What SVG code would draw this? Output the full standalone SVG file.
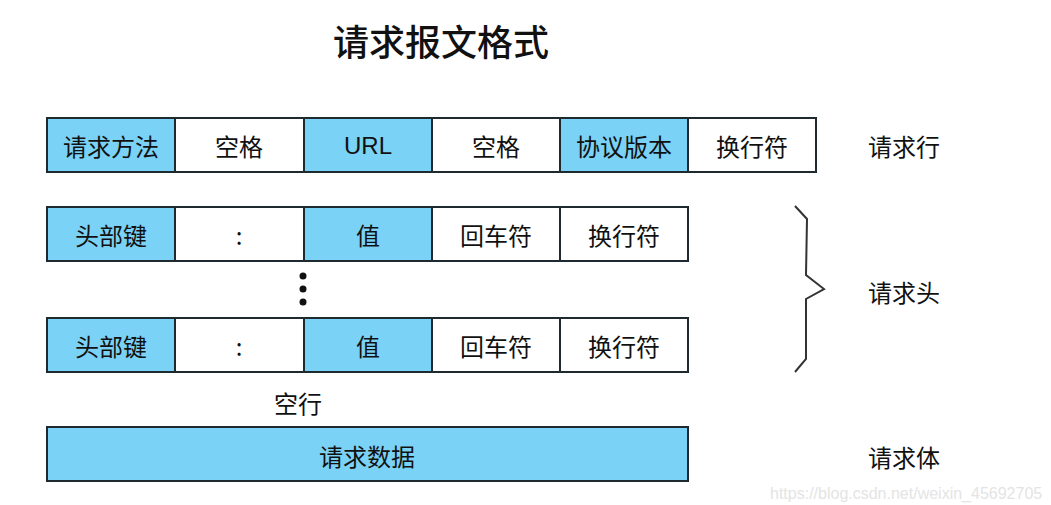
<svg xmlns="http://www.w3.org/2000/svg" width="1051" height="505" viewBox="0 0 1051 505">
<style>
.b{fill:#7bd2f7;stroke:#1e2a30;stroke-width:2}
.w{fill:#fff;stroke:#1e2a30;stroke-width:2}
text{font-family:"Noto Sans CJK SC","Liberation Sans",sans-serif;fill:#111;text-anchor:middle;dominant-baseline:central}
.t{font-size:24px}
.h{font-size:36px;font-weight:500}
.l{font-size:24px}
.wm{font-family:"Liberation Sans",sans-serif;font-size:16px;fill:#e4e4e4;text-anchor:start}
</style>
<rect width="1051" height="505" fill="#fff"/>
<text class="h" x="441" y="40">请求报文格式</text>
<g id="request-line">
<rect class="b" x="47" y="118" width="128" height="54"/><text class="t" x="111" y="145">请求方法</text>
<rect class="w" x="175" y="118" width="129" height="54"/><text class="t" x="239" y="145">空格</text>
<rect class="b" x="304" y="118" width="128" height="54"/><text class="t" x="368" y="145" style="font-family:'Liberation Sans',sans-serif">URL</text>
<rect class="w" x="432" y="118" width="128" height="54"/><text class="t" x="496" y="145">空格</text>
<rect class="b" x="560" y="118" width="128" height="54"/><text class="t" x="624" y="145">协议版本</text>
<rect class="w" x="688" y="118" width="128" height="54"/><text class="t" x="752" y="145">换行符</text>
</g>
<g id="header-1">
<rect class="b" x="47" y="207" width="128" height="54"/><text class="t" x="111" y="234">头部键</text>
<rect class="w" x="175" y="207" width="129" height="54"/><text class="t" x="239" y="234">:</text>
<rect class="b" x="304" y="207" width="128" height="54"/><text class="t" x="368" y="234">值</text>
<rect class="w" x="432" y="207" width="128" height="54"/><text class="t" x="496" y="234">回车符</text>
<rect class="w" x="560" y="207" width="128" height="54"/><text class="t" x="624" y="234">换行符</text>
</g>
<g id="ellipsis" fill="#111">
<circle cx="303" cy="276" r="3.5"/><circle cx="303" cy="289" r="3.5"/><circle cx="303" cy="302" r="3.5"/>
</g>
<g id="header-n">
<rect class="b" x="47" y="318" width="128" height="54"/><text class="t" x="111" y="345">头部键</text>
<rect class="w" x="175" y="318" width="129" height="54"/><text class="t" x="239" y="345">:</text>
<rect class="b" x="304" y="318" width="128" height="54"/><text class="t" x="368" y="345">值</text>
<rect class="w" x="432" y="318" width="128" height="54"/><text class="t" x="496" y="345">回车符</text>
<rect class="w" x="560" y="318" width="128" height="54"/><text class="t" x="624" y="345">换行符</text>
</g>
<g id="blank-line"><text class="t" x="298" y="402">空行</text></g>
<g id="body">
<rect class="b" x="47" y="427" width="641" height="54"/><text class="t" x="367" y="455">请求数据</text>
</g>
<g id="connectors">
<polyline points="795,206 807,219 806,275 824,289 806,299 806,359 795,372" fill="none" stroke="#333" stroke-width="2"/>
</g>
<g id="labels">
<text class="l" x="904" y="145">请求行</text>
<text class="l" x="904" y="291">请求头</text>
<text class="l" x="904" y="456">请求体</text>
</g>
<text class="wm" x="770" y="493">https://blog.csdn.net/weixin_45692705</text>
</svg>
